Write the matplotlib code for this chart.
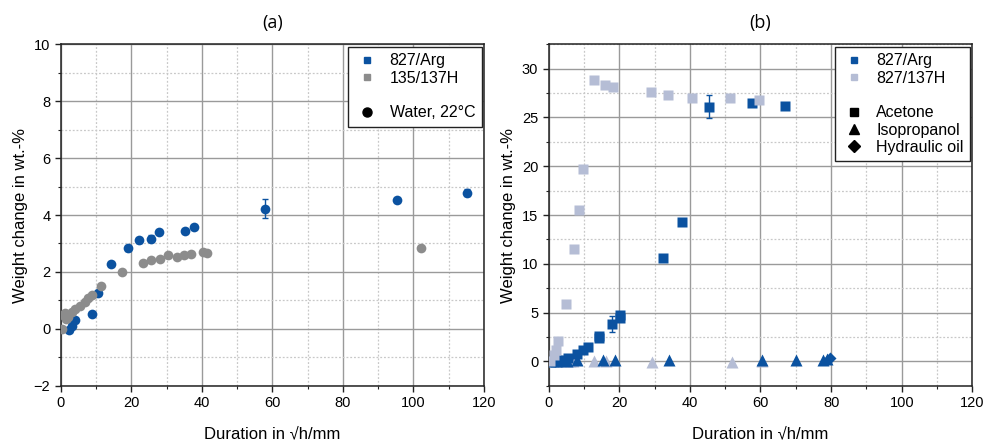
import matplotlib
matplotlib.use("Agg")
import matplotlib.pyplot as plt
from matplotlib.lines import Line2D
from matplotlib.ticker import MultipleLocator

plt.rcParams['font.family'] = ['Liberation Sans', 'DejaVu Sans']

BLUE = '#0b52a0'
GRAY = '#8c8c8c'
LIGHT = '#b5bdd5'

# ---------- Panel (a): water, 22 °C ----------
a_arg_x = [2.2, 3.1, 4.05, 8.8, 10.5, 14.3, 19.1, 22.1, 25.5, 27.9, 35.3, 37.8, 58.0, 95.4, 115.1]
a_arg_y = [-0.03, 0.1, 0.32, 0.52, 1.27, 2.27, 2.83, 3.11, 3.17, 3.39, 3.44, 3.58, 4.22, 4.53, 4.78]
a_arg_err = [0.03, 0.05, 0.05, 0.04, 0.05, 0.05, 0.08, 0.08, 0.12, 0.06, 0.06, 0.05, 0.33, 0.06, 0.12]

a_h_x = [0.3, 0.6, 1.2, 1.6, 2.15, 3.1, 4.05, 5.5, 6.9, 7.8, 8.8, 11.4, 17.3, 23.4, 25.5, 28.0,
         30.4, 33.0, 34.95, 36.85, 40.2, 41.6, 102.0]
a_h_y = [0.0, 0.5, 0.54, 0.35, 0.43, 0.6, 0.69, 0.8, 0.95, 1.07, 1.2, 1.5, 2.0, 2.32, 2.42, 2.46,
         2.59, 2.53, 2.59, 2.63, 2.71, 2.65, 2.83]

# ---------- Panel (b): acetone / isopropanol / hydraulic oil ----------
b_arg_ac_x = [0.2, 3.0, 5.4, 7.9, 9.6, 11.0, 14.25, 14.3, 17.9, 20.3, 20.3, 32.3, 37.7, 45.4, 57.6, 66.8]
b_arg_ac_y = [0.0, 0.17, 0.34, 0.79, 1.13, 1.47, 2.43, 2.62, 3.8, 4.4, 4.7, 10.6, 14.3, 26.1, 26.5, 26.2]
b_arg_ac_err = [0.05, 0.1, 0.1, 0.1, 0.1, 0.1, 0.2, 0.1, 0.8, 0.2, 0.1, 0.1, 0.1, 1.2, 0.1, 0.1]

b_h_ac_x = [0.3, 1.5, 2.0, 2.5, 4.8, 7.2, 8.5, 9.8, 12.8, 15.9, 18.1, 28.9, 33.7, 40.5, 51.3, 59.7]
b_h_ac_y = [0.0, 0.6, 1.2, 2.05, 5.9, 11.5, 15.5, 19.7, 28.8, 28.3, 28.1, 27.6, 27.3, 27.0, 27.0, 26.8]

b_arg_iso_x = [0.5, 2.0, 5.1, 8.1, 15.3, 18.8, 34.0, 60.3, 70.0, 77.8, 78.9]
b_arg_iso_y = [0.0, 0.0, 0.05, 0.1, 0.1, 0.15, 0.15, 0.1, 0.15, 0.1, 0.2]

b_h_iso_x = [1.0, 3.5, 6.0, 7.0, 12.9, 16.2, 29.2, 51.8, 60.3]
b_h_iso_y = [0.0, 0.0, 0.0, 0.0, 0.0, 0.0, -0.1, -0.05, 0.0]

b_arg_oil_x = [1.8, 2.6, 3.4, 79.8]
b_arg_oil_y = [0.0, 0.0, 0.0, 0.3]
b_arg_oil_err = [0.5, 0.5, 0.5, 0.05]

fig = plt.figure(figsize=(9.83, 4.41), dpi=100)
axA = fig.add_axes([0.0618, 0.1254, 0.4306, 0.7741])
axB = fig.add_axes([0.5582, 0.1254, 0.4309, 0.7741])

MS = 7

def style(ax, ymaj, ymin):
    ax.set_xlim(0, 120)
    ax.xaxis.set_major_locator(MultipleLocator(20))
    ax.xaxis.set_minor_locator(MultipleLocator(10))
    ax.yaxis.set_major_locator(MultipleLocator(ymaj))
    ax.yaxis.set_minor_locator(MultipleLocator(ymin))
    ax.grid(which='major', color='#9a9a9a', lw=1.0, ls='-')
    ax.grid(which='minor', color='#c8c8c8', lw=0.9, ls=(0, (1.5, 1.5)))
    ax.set_axisbelow(True)
    ax.tick_params(which='major', direction='out', length=4, width=1, labelsize=10.5, color='#222222')
    ax.tick_params(which='minor', direction='out', length=2.5, width=0.8, color='#222222')
    for s in ax.spines.values():
        s.set_color('#222222')
        s.set_linewidth(1.1)
    ax.set_xlabel('Duration in \u221ah/mm', fontsize=12, labelpad=12)
    ax.set_ylabel('Weight change in wt.-%', fontsize=12, labelpad=4)

LEG_KW = dict(loc='upper right', fontsize=11.5, frameon=True, fancybox=False,
              edgecolor='#222222', framealpha=1, borderaxespad=0.15, labelspacing=0.15,
              handletextpad=0.6, handlelength=1.6, borderpad=0.4)

# Panel (a)
style(axA, 2, 1)
axA.set_ylim(-2, 10)
axA.errorbar(a_arg_x, a_arg_y, yerr=a_arg_err, fmt='o', color=BLUE, ms=MS, mec='none',
             elinewidth=1, capsize=2.5, zorder=3)
axA.plot(a_h_x, a_h_y, 'o', color=GRAY, ms=MS, mec='none', zorder=4)
axA.set_title('(a)', fontsize=13, pad=12, family=['Open Sans', 'DejaVu Sans'])

hA = [Line2D([], [], ls='none', marker='s', color=BLUE, ms=4.5),
      Line2D([], [], ls='none', marker='s', color=GRAY, ms=4.5),
      Line2D([], [], ls='none', marker=''),
      Line2D([], [], ls='none', marker='o', color='black', ms=6.5)]
legA = axA.legend(hA, ['827/Arg', '135/137H', ' ', 'Water, 22\u00b0C'], **LEG_KW)
legA.get_frame().set_linewidth(1.0)

# Panel (b)
style(axB, 5, 2.5)
axB.set_ylim(-2.5, 32.5)
axB.plot(b_h_iso_x, b_h_iso_y, '^', color=LIGHT, ms=MS + 1.5, mec='none', zorder=3)
axB.plot(b_arg_iso_x, b_arg_iso_y, '^', color=BLUE, ms=MS + 1.5, mec='none', zorder=3)
axB.errorbar(b_arg_oil_x, b_arg_oil_y, yerr=b_arg_oil_err, fmt='D', color=BLUE, ms=MS - 0.5,
             mec='none', elinewidth=0.8, capsize=1.5, zorder=3)
axB.errorbar(b_arg_ac_x, b_arg_ac_y, yerr=b_arg_ac_err, fmt='s', color=BLUE, ms=MS - 0.5, mec='none',
             elinewidth=1, capsize=2.5, zorder=4)
axB.plot(b_h_ac_x, b_h_ac_y, 's', color=LIGHT, ms=MS - 0.5, mec='none', zorder=5)
axB.set_title('(b)', fontsize=13, pad=12, family=['Open Sans', 'DejaVu Sans'])

hB = [Line2D([], [], ls='none', marker='s', color=BLUE, ms=4.5),
      Line2D([], [], ls='none', marker='s', color=LIGHT, ms=4.5),
      Line2D([], [], ls='none', marker=''),
      Line2D([], [], ls='none', marker='s', color='black', ms=6),
      Line2D([], [], ls='none', marker='^', color='black', ms=7.5),
      Line2D([], [], ls='none', marker='D', color='black', ms=6)]
legB = axB.legend(hB, ['827/Arg', '827/137H', ' ', 'Acetone', 'Isopropanol', 'Hydraulic oil'],
                  **LEG_KW)
legB.get_frame().set_linewidth(1.0)

fig.savefig('out.png', dpi=100)
